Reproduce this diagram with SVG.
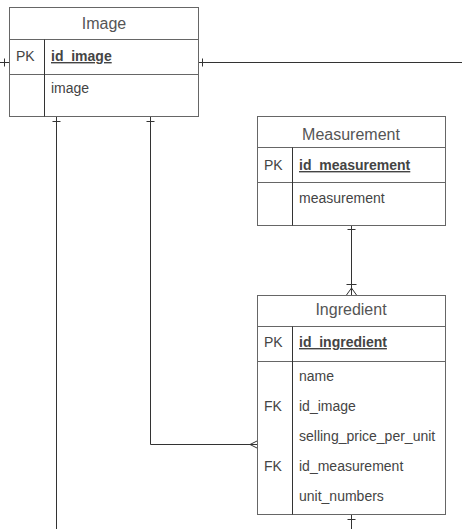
<svg xmlns="http://www.w3.org/2000/svg" width="462" height="529" viewBox="0 0 462 529">
<style>
.box{fill:#fff;stroke:#666;stroke-width:1}
.ln{stroke:#555;stroke-width:1;fill:none}
.dv{stroke:#333;stroke-width:1}
.hd{font-family:"Liberation Sans",Arial,sans-serif;font-size:16px;fill:#555;text-anchor:middle}
.fd{font-family:"Liberation Sans",Arial,sans-serif;font-size:14px;fill:#444}
.pk{font-weight:bold;text-decoration:underline}
.cn{stroke:#333;stroke-width:1;fill:none}
</style>
<rect width="462" height="529" fill="#fff"/>
<g id="connectors">
<path class="cn" d="M198.5 62.5H462M202.5 58.5V66.5"/>
<path class="cn" d="M0 62.5H9M4.5 58.5V66.5"/>
<path class="cn" d="M56.5 116V529M52.5 121.5H60.5"/>
<path class="cn" d="M150.5 116V444.5H257M146.5 121.5H154.5M250 444.5L257 441M250 444.5L257 448"/>
<path class="cn" d="M351.5 225V295M347.5 229.5H355.5M346.5 284.5H356.5M351.5 288L346.5 295M351.5 288L356.5 295"/>
<path class="cn" d="M351.5 514V529M347.5 519.5H355.5"/>
</g>
<g id="image">
<rect class="box" x="9.5" y="7.5" width="189" height="109"/>
<path class="box" d="M9.5 39.5H198.5M9.5 74.5H198.5"/>
<path class="dv" d="M44.5 39.5V116.5"/>
<text class="hd" x="104" y="29">Image</text>
<text class="fd" x="16" y="61">PK</text>
<text class="fd pk" x="51" y="61">id_image</text>
<text class="fd" x="51" y="93">image</text>
</g>
<g id="measurement">
<rect class="box" x="257.5" y="116.5" width="188" height="109"/>
<path class="box" d="M257.5 147.5H445.5M257.5 182.5H445.5"/>
<path class="dv" d="M292.5 147.5V225.5"/>
<text class="hd" x="351" y="140">Measurement</text>
<text class="fd" x="264" y="170">PK</text>
<text class="fd pk" x="299" y="170">id_measurement</text>
<text class="fd" x="299" y="203">measurement</text>
</g>
<g id="ingredient">
<rect class="box" x="257.5" y="295.5" width="188" height="219"/>
<path class="box" d="M257.5 326.5H445.5M257.5 361.5H445.5"/>
<path class="dv" d="M292.5 326.5V514.5"/>
<text class="hd" x="351" y="315">Ingredient</text>
<text class="fd" x="264" y="347">PK</text>
<text class="fd pk" x="299" y="347">id_ingredient</text>
<text class="fd" x="299" y="381">name</text>
<text class="fd" x="264" y="411">FK</text>
<text class="fd" x="299" y="411">id_image</text>
<text class="fd" x="299" y="441">selling_price_per_unit</text>
<text class="fd" x="264" y="471">FK</text>
<text class="fd" x="299" y="471">id_measurement</text>
<text class="fd" x="299" y="501">unit_numbers</text>
</g>
</svg>
